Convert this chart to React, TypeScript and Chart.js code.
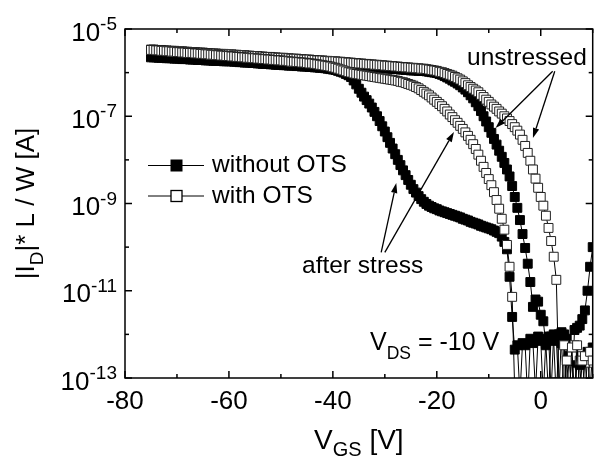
import React, { useEffect, useRef } from "react";
import { Chart, registerables } from "chart.js";

Chart.register(...registerables);

// Gate voltage sweep (V): first sample and step
const VGS_START = -75;
const VGS_STEP = 0.5;

// log10(|I_D| * L / W [A]) for each sweep sample
// without OTS, unstressed (filled squares)
const LOG_ID_NO_OTS_UNSTRESSED = [
  -5.55, -5.55, -5.56, -5.56, -5.56, -5.57, -5.57, -5.57, -5.58, -5.58,
  -5.58, -5.59, -5.59, -5.59, -5.60, -5.60, -5.60, -5.61, -5.61, -5.61,
  -5.62, -5.62, -5.62, -5.63, -5.63, -5.63, -5.64, -5.64, -5.64, -5.65,
  -5.65, -5.65, -5.66, -5.66, -5.67, -5.67, -5.67, -5.68, -5.68, -5.69,
  -5.69, -5.69, -5.70, -5.70, -5.70, -5.71, -5.71, -5.72, -5.72, -5.72,
  -5.73, -5.73, -5.73, -5.74, -5.74, -5.75, -5.75, -5.75, -5.76, -5.76,
  -5.76, -5.77, -5.77, -5.78, -5.78, -5.78, -5.79, -5.79, -5.79, -5.80,
  -5.80, -5.80, -5.81, -5.81, -5.82, -5.82, -5.83, -5.83, -5.84, -5.84,
  -5.85, -5.85, -5.86, -5.86, -5.87, -5.87, -5.88, -5.88, -5.89, -5.89,
  -5.90, -5.90, -5.91, -5.91, -5.92, -5.92, -5.93, -5.93, -5.94, -5.94,
  -5.95, -5.95, -5.95, -5.96, -5.96, -5.96, -5.97, -5.98, -5.99, -6.00,
  -6.01, -6.03, -6.05, -6.08, -6.11, -6.14, -6.18, -6.21, -6.25, -6.29,
  -6.34, -6.39, -6.45, -6.52, -6.59, -6.68, -6.77, -6.88, -7.00, -7.12,
  -7.25, -7.38, -7.52, -7.65, -7.79, -7.93, -8.07, -8.22, -8.38, -8.60,
  -8.85, -9.10, -9.38, -9.70, -10.02, -10.38, -10.80, -11.37, -11.20, -11.25,
  -11.55, -11.70, -12.25, -13.40, -12.05, -12.15, -13.50, -12.00, -12.20, -13.40,
  -12.10, -12.60, -13.40, -11.90, -11.85, -11.80, -11.65, -11.45, -11.00, -10.45,
  -10.00,
];
// without OTS, after stress (filled squares)
const LOG_ID_NO_OTS_STRESSED = [
  -5.65, -5.65, -5.65, -5.66, -5.66, -5.66, -5.67, -5.67, -5.67, -5.68,
  -5.68, -5.68, -5.69, -5.69, -5.69, -5.70, -5.70, -5.70, -5.71, -5.71,
  -5.71, -5.72, -5.72, -5.72, -5.73, -5.73, -5.73, -5.73, -5.74, -5.74,
  -5.74, -5.74, -5.75, -5.75, -5.76, -5.76, -5.77, -5.77, -5.77, -5.78,
  -5.78, -5.79, -5.79, -5.80, -5.80, -5.80, -5.81, -5.81, -5.82, -5.82,
  -5.82, -5.83, -5.83, -5.84, -5.84, -5.84, -5.85, -5.85, -5.86, -5.86,
  -5.86, -5.87, -5.87, -5.88, -5.88, -5.89, -5.89, -5.90, -5.91, -5.92,
  -5.93, -5.94, -5.96, -5.98, -6.00, -6.03, -6.06, -6.10, -6.18, -6.27,
  -6.37, -6.46, -6.55, -6.63, -6.71, -6.80, -6.90, -7.00, -7.11, -7.23,
  -7.35, -7.48, -7.61, -7.74, -7.87, -8.00, -8.12, -8.24, -8.35, -8.46,
  -8.57, -8.67, -8.75, -8.83, -8.90, -8.96, -9.01, -9.05, -9.08, -9.11,
  -9.13, -9.16, -9.18, -9.20, -9.22, -9.24, -9.26, -9.28, -9.30, -9.32,
  -9.35, -9.37, -9.39, -9.42, -9.44, -9.46, -9.48, -9.51, -9.53, -9.55,
  -9.57, -9.59, -9.62, -9.65, -9.68, -9.76, -9.88, -10.05, -10.68, -11.60,
  -12.35, -12.25, -13.40, -12.20, -12.25, -13.50, -12.10, -12.20, -13.30, -12.05,
  -12.15, -13.40, -12.10, -12.05, -13.30, -12.00, -12.10, -13.40, -11.95, -12.00,
  -13.30, -12.50, -12.60, -13.40, -12.65, -12.70, -13.50, -12.60, -12.40, -13.30,
  -12.30,
];
// with OTS, unstressed (open squares)
const LOG_ID_OTS_UNSTRESSED = [
  -5.47, -5.47, -5.48, -5.48, -5.48, -5.49, -5.49, -5.50, -5.50, -5.50,
  -5.51, -5.51, -5.51, -5.52, -5.52, -5.53, -5.53, -5.53, -5.54, -5.54,
  -5.54, -5.55, -5.55, -5.56, -5.56, -5.56, -5.57, -5.57, -5.57, -5.58,
  -5.58, -5.58, -5.59, -5.59, -5.60, -5.60, -5.60, -5.61, -5.61, -5.62,
  -5.62, -5.62, -5.63, -5.63, -5.64, -5.64, -5.64, -5.65, -5.65, -5.66,
  -5.66, -5.66, -5.67, -5.67, -5.68, -5.68, -5.68, -5.69, -5.69, -5.70,
  -5.70, -5.70, -5.71, -5.71, -5.72, -5.72, -5.72, -5.73, -5.73, -5.74,
  -5.74, -5.74, -5.75, -5.75, -5.76, -5.76, -5.77, -5.77, -5.78, -5.78,
  -5.79, -5.79, -5.80, -5.80, -5.81, -5.81, -5.82, -5.82, -5.83, -5.83,
  -5.84, -5.84, -5.85, -5.85, -5.86, -5.86, -5.87, -5.87, -5.88, -5.88,
  -5.89, -5.89, -5.90, -5.90, -5.91, -5.91, -5.92, -5.93, -5.94, -5.95,
  -5.96, -5.98, -5.99, -6.01, -6.03, -6.05, -6.07, -6.10, -6.13, -6.16,
  -6.20, -6.24, -6.29, -6.33, -6.37, -6.41, -6.45, -6.51, -6.56, -6.62,
  -6.67, -6.73, -6.78, -6.83, -6.89, -6.94, -7.00, -7.05, -7.11, -7.18,
  -7.25, -7.33, -7.42, -7.54, -7.68, -7.84, -8.02, -8.22, -8.43, -8.64,
  -8.85, -9.05, -9.28, -9.56, -9.86, -10.22, -10.75, -13.10, -13.50, -12.25,
  -13.60, -13.30, -12.50, -12.25, -13.50, -12.60, -12.50, -13.40, -12.55, -12.65,
  -12.40,
];
// with OTS, after stress (open squares)
const LOG_ID_OTS_STRESSED = [
  -5.48, -5.48, -5.49, -5.49, -5.50, -5.50, -5.51, -5.51, -5.52, -5.52,
  -5.53, -5.53, -5.54, -5.54, -5.55, -5.55, -5.55, -5.56, -5.56, -5.57,
  -5.57, -5.58, -5.58, -5.59, -5.59, -5.60, -5.60, -5.61, -5.61, -5.62,
  -5.62, -5.63, -5.63, -5.64, -5.64, -5.65, -5.65, -5.66, -5.66, -5.67,
  -5.67, -5.68, -5.68, -5.69, -5.69, -5.70, -5.70, -5.71, -5.71, -5.72,
  -5.72, -5.73, -5.73, -5.74, -5.75, -5.75, -5.76, -5.76, -5.77, -5.77,
  -5.78, -5.79, -5.79, -5.80, -5.81, -5.82, -5.83, -5.84, -5.85, -5.86,
  -5.88, -5.89, -5.91, -5.93, -5.95, -5.97, -5.99, -6.00, -6.02, -6.03,
  -6.04, -6.05, -6.06, -6.07, -6.08, -6.09, -6.10, -6.11, -6.12, -6.13,
  -6.14, -6.15, -6.16, -6.17, -6.18, -6.19, -6.21, -6.22, -6.24, -6.26,
  -6.28, -6.30, -6.33, -6.36, -6.40, -6.44, -6.48, -6.52, -6.57, -6.62,
  -6.67, -6.72, -6.77, -6.83, -6.89, -6.96, -7.02, -7.09, -7.15, -7.22,
  -7.29, -7.37, -7.45, -7.54, -7.64, -7.75, -7.88, -8.02, -8.16, -8.30,
  -8.44, -8.58, -8.74, -8.92, -9.12, -9.35, -9.60, -9.95, -10.45, -11.14,
  -13.30, -13.50, -13.40, -13.60, -13.30, -13.50, -13.40, -13.60, -13.30, -13.50,
  -13.40, -13.60, -13.30, -13.50, -13.40, -13.10, -13.50, -13.40, -13.30, -13.50,
  -12.60, -13.40, -12.30, -13.50, -12.25, -13.40, -12.60, -12.50, -13.40, -12.40,
  -12.60,
];

const VGS = LOG_ID_NO_OTS_UNSTRESSED.map((_, i) => VGS_START + VGS_STEP * i);

const X_MIN = -80;
const X_MAX = 10;
const Y_MIN_EXP = -13;
const Y_MAX_EXP = -5;
const X_MAJOR_TICKS = [-80, -60, -40, -20, 0];
const X_MINOR_TICKS = [-70, -50, -30, -10, 10];
const Y_MAJOR_EXPS = [-5, -7, -9, -11, -13];
const Y_MINOR_EXPS = [-6, -8, -10, -12];

const LEGEND_LABELS = ["without OTS", "with OTS"];

const FONT = '"Liberation Sans", Arial, Helvetica, sans-serif';

type Part = [string, number, number];

function drawRich(ctx: CanvasRenderingContext2D, parts: Part[], x: number, y: number, align: "left" | "center" | "right") {
  const widths = parts.map(([t, s]) => {
    ctx.font = `${s}px ${FONT}`;
    return ctx.measureText(t).width;
  });
  const total = widths.reduce((a, b) => a + b, 0);
  let cx = align === "center" ? x - total / 2 : align === "right" ? x - total : x;
  ctx.textAlign = "left";
  ctx.textBaseline = "alphabetic";
  parts.forEach(([t, s, dy], i) => {
    ctx.font = `${s}px ${FONT}`;
    ctx.fillText(t, cx, y + dy);
    cx += widths[i];
  });
}

function drawArrow(ctx: CanvasRenderingContext2D, x1: number, y1: number, x2: number, y2: number) {
  const ang = Math.atan2(y2 - y1, x2 - x1);
  const len = 10;
  const hw = 3.2;
  const bx = x2 - len * Math.cos(ang);
  const by = y2 - len * Math.sin(ang);
  ctx.beginPath();
  ctx.moveTo(x1, y1);
  ctx.lineTo(bx, by);
  ctx.stroke();
  ctx.beginPath();
  ctx.moveTo(x2, y2);
  ctx.lineTo(bx + hw * Math.sin(ang), by - hw * Math.cos(ang));
  ctx.lineTo(bx - hw * Math.sin(ang), by + hw * Math.cos(ang));
  ctx.closePath();
  ctx.fill();
}

// Annotation arrows in data coordinates: [V_from, logI_from, V_to, logI_to]
const ARROWS_UNSTRESSED = [
  [2.3, -5.97, -8.7, -7.27],
  [2.7, -5.97, -1.5, -7.5],
];
const ARROWS_STRESSED = [
  [-30.7, -10.12, -27.8, -8.53],
  [-30.0, -10.12, -16.7, -7.36],
];

const decorPlugin = {
  id: "decor",
  afterDraw(chart: any) {
    const { ctx, chartArea: a, scales } = chart;
    const xs = scales.x;
    const ys = scales.y;
    const px = (v: number) => xs.getPixelForValue(v);
    const py = (e: number) => ys.getPixelForValue(Math.pow(10, e));
    ctx.save();
    ctx.strokeStyle = "#000";
    ctx.fillStyle = "#000";
    ctx.lineWidth = 1.5;
    ctx.strokeRect(a.left, a.top, a.right - a.left, a.bottom - a.top);

    const tick = (x1: number, y1: number, x2: number, y2: number) => {
      ctx.beginPath();
      ctx.moveTo(x1, y1);
      ctx.lineTo(x2, y2);
      ctx.stroke();
    };
    const MAJ = 7;
    const MIN = 4;
    X_MAJOR_TICKS.forEach((v) => {
      const x = px(v);
      tick(x, a.bottom, x, a.bottom - MAJ);
      tick(x, a.top, x, a.top + MAJ);
    });
    X_MINOR_TICKS.forEach((v) => {
      const x = px(v);
      tick(x, a.bottom, x, a.bottom - MIN);
      tick(x, a.top, x, a.top + MIN);
    });
    Y_MAJOR_EXPS.forEach((e) => {
      const y = py(e);
      tick(a.left, y, a.left + MAJ, y);
      tick(a.right, y, a.right - MAJ, y);
    });
    Y_MINOR_EXPS.forEach((e) => {
      const y = py(e);
      tick(a.left, y, a.left + MIN, y);
      tick(a.right, y, a.right - MIN, y);
    });

    // tick labels
    X_MAJOR_TICKS.forEach((v) => {
      drawRich(ctx, [[String(v), 26, 0]], px(v), a.bottom + 30.5, "center");
    });
    Y_MAJOR_EXPS.forEach((e) => {
      drawRich(ctx, [["10", 26, 0], [String(e), 19, -10.5]], a.left - 8, py(e) + 11.5, "right");
    });

    // axis titles
    drawRich(ctx, [["V", 28, 0], ["GS", 20, 6.5], [" [V]", 28, 0]], (a.left + a.right) / 2, 449, "center");
    ctx.save();
    ctx.translate(33.5, (a.top + a.bottom) / 2);
    ctx.rotate(-Math.PI / 2);
    drawRich(ctx, [["|I", 26, 0], ["D", 19, 9], ["|* L / W [A]", 26, 0]], 0, 0, "center");
    ctx.restore();

    // legend
    const legY = [165.5, 196];
    const legBaseline = [172, 203];
    LEGEND_LABELS.forEach((label, i) => {
      const y = legY[i];
      ctx.lineWidth = 1;
      tick(148, y, 204, y);
      ctx.lineWidth = 1.3;
      if (i === 0) {
        ctx.fillStyle = "#000";
        ctx.fillRect(170.5, y - 6, 12, 12);
      } else {
        ctx.fillStyle = "#fff";
        ctx.fillRect(171, y - 5.5, 11, 11);
        ctx.strokeRect(171, y - 5.5, 11, 11);
      }
      ctx.fillStyle = "#000";
      drawRich(ctx, [[label, 24.5, 0]], 212, legBaseline[i], "left");
    });

    // annotations
    ctx.fillStyle = "#000";
    drawRich(ctx, [["unstressed", 24.5, 0]], 467, 65, "left");
    drawRich(ctx, [["after stress", 24.5, 0]], 302, 273, "left");
    drawRich(ctx, [["V", 25, 0], ["DS", 17.5, 9], [" = -10 V", 25, 0]], 370, 350, "left");

    ctx.lineWidth = 1.3;
    [...ARROWS_UNSTRESSED, ...ARROWS_STRESSED].forEach(([v1, l1, v2, l2]) => {
      drawArrow(ctx, px(v1), py(l1), px(v2), py(l2));
    });
    ctx.restore();
  },
};

const toPoints = (arr: number[]) => arr.map((e, i) => ({ x: VGS[i], y: Math.pow(10, e) }));

export default function App() {
  const ref = useRef<HTMLCanvasElement | null>(null);
  useEffect(() => {
    document.body.style.margin = "0";
    const canvas = ref.current;
    if (!canvas) return;
    const common = {
      showLine: true,
      borderColor: "#000",
      borderWidth: 1,
      pointStyle: "rect",
      pointRadius: 6.3,
      pointBorderWidth: 1,
      tension: 0,
    };
    const chart = new Chart(canvas, {
      type: "scatter",
      data: {
        datasets: [
          {
            ...common,
            label: "with OTS, after stress",
            data: toPoints(LOG_ID_OTS_STRESSED),
            pointBackgroundColor: "#fff",
            pointBorderColor: "#222",
            order: 0,
          },
          {
            ...common,
            label: "with OTS, unstressed",
            data: toPoints(LOG_ID_OTS_UNSTRESSED),
            pointBackgroundColor: "#fff",
            pointBorderColor: "#222",
            order: 0,
          },
          {
            ...common,
            label: "without OTS, after stress",
            data: toPoints(LOG_ID_NO_OTS_STRESSED),
            pointBackgroundColor: "#000",
            pointBorderColor: "#000",
            order: 1,
          },
          {
            ...common,
            label: "without OTS, unstressed",
            data: toPoints(LOG_ID_NO_OTS_UNSTRESSED),
            pointBackgroundColor: "#000",
            pointBorderColor: "#000",
            order: 1,
          },
        ] as any,
      },
      options: {
        animation: false,
        responsive: false,
        devicePixelRatio: 1,
        events: [],
        layout: { padding: { left: 125, top: 29, right: 1.5, bottom: 85 } },
        plugins: { legend: { display: false }, tooltip: { enabled: false }, title: { display: false } },
        scales: {
          x: { type: "linear", min: X_MIN, max: X_MAX, display: false },
          y: { type: "logarithmic", min: Math.pow(10, Y_MIN_EXP), max: Math.pow(10, Y_MAX_EXP), display: false },
        },
      },
      plugins: [decorPlugin],
    });
    return () => chart.destroy();
  }, []);
  return (
    <div style={{ width: 596, height: 463, overflow: "hidden", position: "relative", background: "#fff" }}>
      <canvas ref={ref} width={600} height={463} style={{ display: "block", width: 600, height: 463 }} />
    </div>
  );
}
